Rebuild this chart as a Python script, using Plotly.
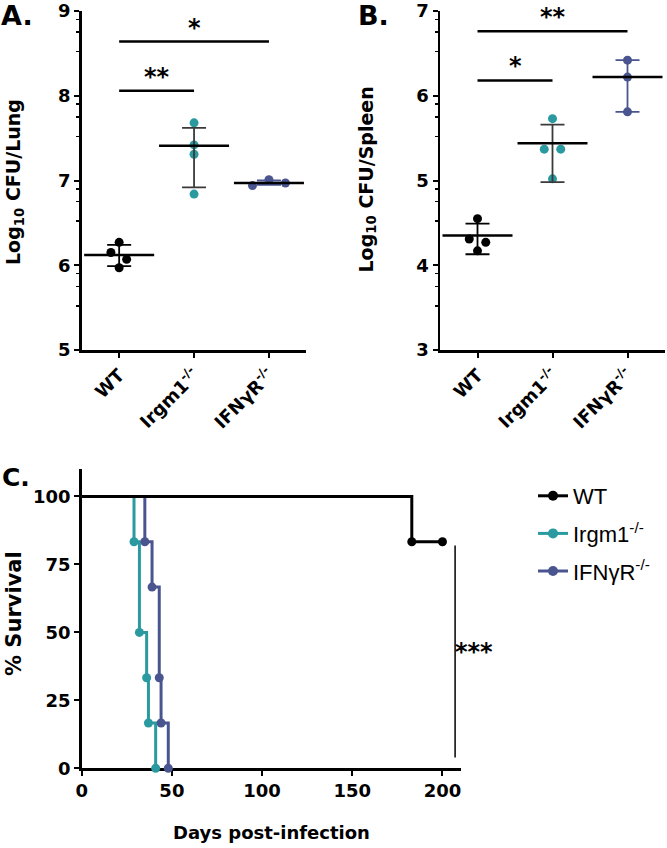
import plotly.graph_objects as go

# ---------------- data ----------------
groups = ["WT", "Irgm1<sup>-/-</sup>", "IFNγR<sup>-/-</sup>"]

# Panel A: Log10 CFU / Lung
lung_wt = [6.27, 6.15, 6.07, 5.97]
lung_irgm1 = [7.68, 7.42, 7.31, 6.84]
lung_ifngr = [6.94, 7.01, 6.97]
lung_center = [6.12, 7.41, 6.97]
lung_upper = [6.24, 7.62, 7.00]
lung_lower = [5.99, 6.92, 6.95]
lung_sig_from = [0, 0]
lung_sig_to = [1, 2]
lung_sig_y = [8.06, 8.64]
lung_sig_label = ["**", "*"]

# Panel B: Log10 CFU / Spleen
spleen_wt = [4.55, 4.31, 4.27, 4.17]
spleen_irgm1 = [5.73, 5.37, 5.37, 5.02]
spleen_ifngr = [6.42, 6.22, 5.81]
spleen_center = [4.35, 5.44, 6.22]
spleen_upper = [4.49, 5.66, 6.42]
spleen_lower = [4.13, 4.98, 5.81]
spleen_sig_from = [0, 0]
spleen_sig_to = [1, 2]
spleen_sig_y = [6.18, 6.76]
spleen_sig_label = ["*", "**"]

# Panel C: survival
surv_wt_days = [0, 183, 200]
surv_wt = [100, 83.33, 83.33]
surv_irgm1_days = [0, 29, 32, 36, 37, 41]
surv_irgm1 = [100, 83.33, 50, 33.33, 16.67, 0]
surv_ifngr_days = [0, 35, 39, 43, 44, 48]
surv_ifngr = [100, 83.33, 66.67, 33.33, 16.67, 0]
surv_sig_day = 207
surv_sig_range = [4, 82]
surv_sig_label = "***"

# ---------------- style ----------------
W, H = 667, 848
C_WT = "#000000"
C_IRGM = "#2a9aa0"
C_IFN = "#4a5590"
colors = [C_WT, C_IRGM, C_IFN]
err_colors = ["#000000", "#3a3a3a", C_IFN]
BOLD = "DejaVu Sans"

# jitter (position offsets in category units)
lung_jit = [[0, -0.11, 0.10, 0], [0, 0, 0, 0], [-0.22, 0, 0.22]]
spleen_jit = [[0, -0.11, 0.11, 0], [0, -0.11, 0.11, 0], [0, 0, 0]]


def px_x(p):
    return p / W


def px_y(p):
    return 1 - p / H


fig = go.Figure()


def dot_panel(xa, ya, pts, jit, center, upper, lower, sfrom, sto, sy, slab):
    for i, (vals, j) in enumerate(zip(pts, jit)):
        fig.add_trace(go.Scatter(
            x=[i + d for d in j], y=vals, mode="markers",
            marker=dict(size=9, color=colors[i], line=dict(width=0)),
            xaxis=xa, yaxis=ya, showlegend=False, cliponaxis=False))
    for i in range(3):
        fig.add_trace(go.Scatter(
            x=[i], y=[center[i]], mode="markers",
            marker=dict(symbol="line-ew", size=50,
                        line=dict(width=2.5, color="black")),
            error_y=dict(type="data", symmetric=False,
                         array=[upper[i] - center[i]],
                         arrayminus=[center[i] - lower[i]],
                         color=err_colors[i], thickness=1.8, width=12),
            xaxis=xa, yaxis=ya, showlegend=False, cliponaxis=False))
    for a, b, y, lab in zip(sfrom, sto, sy, slab):
        fig.add_trace(go.Scatter(
            x=[a, b], y=[y, y], mode="lines",
            line=dict(color="black", width=2.5),
            xaxis=xa, yaxis=ya, showlegend=False, cliponaxis=False))
        fig.add_annotation(
            x=(a + b) / 2, y=y, xref=xa, yref=ya, text=lab,
            showarrow=False, yanchor="bottom", yshift=-2,
            font=dict(family=BOLD, size=24, color="black", weight="bold"))


dot_panel("x", "y", [lung_wt, lung_irgm1, lung_ifngr], lung_jit,
          lung_center, lung_upper, lung_lower,
          lung_sig_from, lung_sig_to, lung_sig_y, lung_sig_label)
dot_panel("x2", "y2", [spleen_wt, spleen_irgm1, spleen_ifngr], spleen_jit,
          spleen_center, spleen_upper, spleen_lower,
          spleen_sig_from, spleen_sig_to, spleen_sig_y, spleen_sig_label)

# survival curves
surv = [
    ("Irgm1<sup>-/-</sup>", surv_irgm1_days, surv_irgm1, C_IRGM),
    ("IFNγR<sup>-/-</sup>", surv_ifngr_days, surv_ifngr, C_IFN),
    ("WT", surv_wt_days, surv_wt, C_WT),
]
for name, d, s, c in surv:
    fig.add_trace(go.Scatter(
        x=d, y=s, mode="lines", line=dict(color=c, width=3, shape="hv"),
        xaxis="x3", yaxis="y3", showlegend=False, cliponaxis=False))
    fig.add_trace(go.Scatter(
        x=d[1:], y=s[1:], mode="markers",
        marker=dict(color=c, size=9, line=dict(width=0)),
        xaxis="x3", yaxis="y3", showlegend=False, cliponaxis=False))

# legend entries
for name, c in [("WT", C_WT), ("Irgm1<sup>-/-</sup>", C_IRGM),
                ("IFNγR<sup>-/-</sup>", C_IFN)]:
    fig.add_trace(go.Scatter(
        x=[None], y=[None], mode="lines+markers", name=name,
        legendgroup=name,
        line=dict(color=c, width=3),
        marker=dict(color=c, size=10, line=dict(width=0)),
        xaxis="x3", yaxis="y3"))

fig.add_trace(go.Scatter(
    x=[surv_sig_day, surv_sig_day], y=surv_sig_range, mode="lines",
    line=dict(color="black", width=1.5), xaxis="x3", yaxis="y3",
    showlegend=False, cliponaxis=False))

tickfont = dict(family=BOLD, size=18, color="black", weight="bold")

cat_axis = dict(
    range=[-0.5, 2.5], tickmode="array", tickvals=[0, 1, 2], ticktext=groups,
    tickangle=-45, ticks="outside", ticklen=5, tickwidth=2, tickcolor="black",
    showline=True, linewidth=2.5, linecolor="black", showgrid=False,
    zeroline=False, tickfont=tickfont, automargin=False)


def log_axis(lo, hi):
    minors = []
    for k in range(lo, hi):
        minors += [k + 0.52, k + 0.75, k + 0.9]
    return dict(
        range=[lo, hi], tickmode="array", tickvals=list(range(lo, hi + 1)),
        ticks="outside", ticklen=5, tickwidth=2, tickcolor="black",
        showline=True, linewidth=2.5, linecolor="black", showgrid=False,
        zeroline=False, tickfont=tickfont, automargin=False,
        minor=dict(tickmode="array", tickvals=minors, ticks="outside",
                   ticklen=3, tickwidth=1.5, tickcolor="black"))


fig.update_layout(
    template="none",
    width=W, height=H,
    margin=dict(l=0, r=0, t=0, b=0, autoexpand=False),
    paper_bgcolor="white", plot_bgcolor="white",
    xaxis=dict(domain=[px_x(81.7), px_x(306.4)], anchor="y", **cat_axis),
    yaxis=dict(domain=[px_y(350), px_y(11)], anchor="x", **log_axis(5, 9)),
    xaxis2=dict(domain=[px_x(440), px_x(665)], anchor="y2", **cat_axis),
    yaxis2=dict(domain=[px_y(350), px_y(11)], anchor="x2", **log_axis(3, 7)),
    xaxis3=dict(domain=[px_x(81.7), px_x(460.5)], anchor="y3",
                range=[0, 210], tickmode="array",
                tickvals=[0, 50, 100, 150, 200],
                ticks="outside", ticklen=5, tickwidth=2, tickcolor="black",
                showline=True, linewidth=2.5, linecolor="black",
                showgrid=False, zeroline=False, tickfont=tickfont,
                layer="below traces", automargin=False),
    yaxis3=dict(domain=[px_y(768.3), px_y(469.3)], anchor="x3",
                range=[0, 110], tickmode="array",
                tickvals=[0, 25, 50, 75, 100],
                ticks="outside", ticklen=5, tickwidth=2, tickcolor="black",
                showline=True, linewidth=2.5, linecolor="black",
                showgrid=False, zeroline=False, tickfont=tickfont,
                layer="below traces", automargin=False),
    legend=dict(x=px_x(533), y=px_y(475), xanchor="left", yanchor="top",
                font=dict(family="Liberation Sans", size=22, color="black"),
                bgcolor="rgba(0,0,0,0)", tracegroupgap=6),
    showlegend=True,
    hovermode=False,
)

ann_font = dict(family=BOLD, color="black", weight="bold")
texts = [
    ("A.", 16.7, 15, 27, 0),
    ("B.", 373.7, 15, 27, 0),
    ("C.", 16, 477, 25, 0),
    ("Log<sub>10</sub> CFU/Lung", 14, 182, 19, -90),
    ("Log<sub>10</sub> CFU/Spleen", 366.5, 180, 19, -90),
    ("% Survival", 14, 614, 21, -90),
    ("Days post-infection", 271, 832, 18, 0),
    (surv_sig_label, 474, 652, 24, 0),
]
for t, x, y, s, ang in texts:
    fig.add_annotation(x=px_x(x), y=px_y(y), xref="paper", yref="paper",
                       text=t, showarrow=False, xanchor="center",
                       yanchor="middle", textangle=ang,
                       font=dict(size=s, **ann_font))

fig.write_html(
    "out.html",
    config={"displayModeBar": False, "staticPlot": True},
    post_script="document.body.style.margin='0px';"
                "document.body.style.overflow='hidden';",
)
